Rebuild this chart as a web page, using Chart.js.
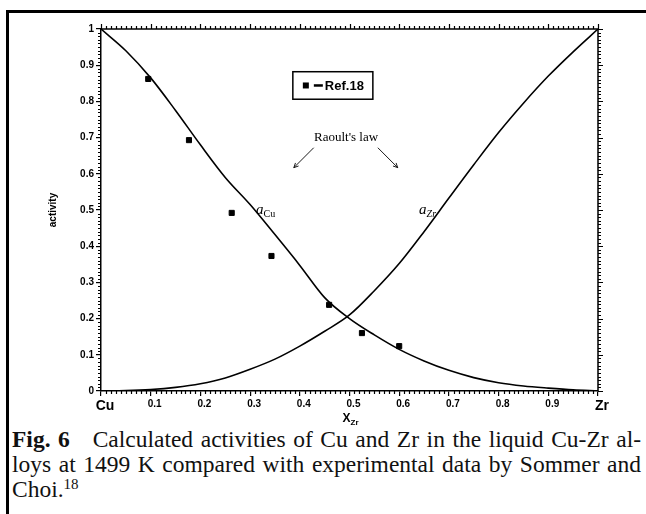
<!DOCTYPE html>
<html>
<head>
<meta charset="utf-8">
<script src="https://cdn.jsdelivr.net/npm/chart.js@4/dist/chart.umd.min.js"></script>
<style>
    body { margin: 0; background: #fff; }
    #page { position: relative; width: 646px; height: 514px; overflow: hidden; }
    #frame { position: absolute; left: 6px; top: 10px; right: 0; bottom: 0;
             border-top: 3px solid #000; border-left: 3px solid #000; }
    #chartBox { position: absolute; left: 0; top: 0; width: 646px; height: 425px; }
    #caption { position: absolute; left: 12px; top: 427px; width: 629px;
               font-family: "Liberation Serif", "Times New Roman", serif; font-size: 23.5px;
               line-height: 25px; color: #111; }
    #caption .j { text-align: justify; text-align-last: justify; white-space: nowrap; }
    #caption sup { font-size: 15px; vertical-align: 8px; line-height: 0; }
</style>
</head>
<body>
<div id="page">
    <div id="frame"></div>
    <div id="chartBox"><canvas id="chart"></canvas></div>
    <div id="caption">
        <div class="j"><b>Fig. 6</b>&nbsp;&nbsp; Calculated activities of Cu and Zr in the liquid Cu-Zr al-</div>
        <div class="j">loys at 1499 K compared with experimental data by Sommer and</div>
        <div>Choi.<sup>18</sup></div>
    </div>
</div>
<script>
// composition x_Zr
const xCalc = [0, 0.05, 0.1, 0.15, 0.2, 0.25, 0.3, 0.35, 0.4, 0.45, 0.5,
    0.55, 0.6, 0.65, 0.7, 0.75, 0.8, 0.85, 0.9, 0.95, 1];
const aCu = [1, 0.94, 0.865, 0.775, 0.68, 0.59, 0.515, 0.432, 0.347, 0.258, 0.2,
    0.155, 0.115, 0.083, 0.057, 0.037, 0.023, 0.014, 0.008, 0.003, 0];
const aZr = [0, 0.001, 0.004, 0.01, 0.02, 0.036, 0.06, 0.088, 0.124, 0.165, 0.21,
    0.277, 0.352, 0.44, 0.533, 0.625, 0.714, 0.795, 0.87, 0.937, 1];

// Sommer and Choi (Ref.18)
const xRef = [0.095, 0.177, 0.263, 0.343, 0.459, 0.525, 0.600];
const aCuRef = [0.862, 0.693, 0.492, 0.373, 0.238, 0.160, 0.124];

const xTickLabels = ['Cu', '0.1', '0.2', '0.3', '0.4', '0.5', '0.6', '0.7', '0.8', '0.9', 'Zr'];
const yTickLabels = ['0', '0.1', '0.2', '0.3', '0.4', '0.5', '0.6', '0.7', '0.8', '0.9', '1'];

const pts = (xs, ys) => xs.map((x, i) => ({x: x, y: ys[i]}));

const sans = '"Liberation Sans", Arial, sans-serif';
const serif = '"Liberation Serif", "Times New Roman", serif';

function arrow(ctx, x1, y1, x2, y2) {
    const a = Math.atan2(y2 - y1, x2 - x1);
    ctx.beginPath();
    ctx.moveTo(x1, y1);
    ctx.lineTo(x2, y2);
    ctx.moveTo(x2 - 5 * Math.cos(a - 0.45), y2 - 5 * Math.sin(a - 0.45));
    ctx.lineTo(x2, y2);
    ctx.lineTo(x2 - 5 * Math.cos(a + 0.45), y2 - 5 * Math.sin(a + 0.45));
    ctx.stroke();
}

function subLabel(ctx, x, y, main, sub, mainFont, subFont) {
    ctx.font = mainFont;
    ctx.fillText(main, x, y);
    const w = ctx.measureText(main).width;
    ctx.font = subFont;
    ctx.fillText(sub, x + w, y + 3);
}

const extras = {
    id: 'extras',
    afterDraw(chart) {
        const ctx = chart.ctx;
        const xs = chart.scales.x, ys = chart.scales.y;
        const area = chart.chartArea;
        ctx.save();
        ctx.strokeStyle = '#000';
        ctx.fillStyle = '#000';

        // top and right frame lines
        ctx.lineWidth = 1.5;
        ctx.beginPath();
        ctx.moveTo(area.left, area.top);
        ctx.lineTo(area.right, area.top);
        ctx.lineTo(area.right, area.bottom);
        ctx.stroke();

        // ticks on all sides, outward
        ctx.lineWidth = 1.2;
        for (let i = 0; i <= 100; i++) {
            const v = i / 100;
            const major = i % 10 === 0;
            const len = major ? 5 : 3;
            const px = Math.round(xs.getPixelForValue(v)) + 0.5;
            const py = Math.round(ys.getPixelForValue(v)) + 0.5;
            ctx.beginPath();
            ctx.moveTo(px, area.top); ctx.lineTo(px, area.top - len);
            ctx.moveTo(area.right, py); ctx.lineTo(area.right + len, py);
            if (!major) {
                ctx.moveTo(px, area.bottom); ctx.lineTo(px, area.bottom + len);
                ctx.moveTo(area.left, py); ctx.lineTo(area.left - len, py);
            }
            ctx.stroke();
        }

        // axis titles
        ctx.textBaseline = 'alphabetic';
        ctx.textAlign = 'left';
        subLabel(ctx, xs.getPixelForValue(0.5) - 7, 422, 'X', 'Zr',
            'bold 12px ' + sans, 'bold 8px ' + sans);
        ctx.save();
        ctx.translate(56, (area.top + area.bottom) / 2);
        ctx.rotate(-Math.PI / 2);
        ctx.textAlign = 'center';
        ctx.font = 'bold 10px ' + sans;
        ctx.fillText('activity', 0, 0);
        ctx.restore();

        // curve labels
        ctx.textAlign = 'left';
        subLabel(ctx, xs.getPixelForValue(0.312), ys.getPixelForValue(0.49), 'a', 'Cu',
            'italic 15px ' + serif, '10px ' + serif);
        subLabel(ctx, xs.getPixelForValue(0.64), ys.getPixelForValue(0.49), 'a', 'Zr',
            'italic 15px ' + serif, 'italic 10px ' + serif);

        // Raoult's law with arrows
        ctx.textAlign = 'center';
        ctx.font = '13px ' + serif;
        ctx.fillText("Raoult's law", xs.getPixelForValue(0.493), ys.getPixelForValue(0.69));
        ctx.lineWidth = 0.9;
        arrow(ctx, xs.getPixelForValue(0.428), ys.getPixelForValue(0.672),
            xs.getPixelForValue(0.388), ys.getPixelForValue(0.617));
        arrow(ctx, xs.getPixelForValue(0.557), ys.getPixelForValue(0.672),
            xs.getPixelForValue(0.597), ys.getPixelForValue(0.617));

        // legend box
        const bx = xs.getPixelForValue(0.386), by = ys.getPixelForValue(0.882);
        const bw = xs.getPixelForValue(0.547) - bx, bh = ys.getPixelForValue(0.806) - by;
        ctx.lineWidth = 1.5;
        ctx.strokeRect(bx, by, bw, bh);
        const cy = by + bh / 2;
        ctx.fillRect(bx + 10, cy - 3, 6, 6);
        ctx.lineWidth = 2.5;
        ctx.beginPath();
        ctx.moveTo(bx + 21, cy); ctx.lineTo(bx + 30, cy);
        ctx.stroke();
        ctx.textAlign = 'left';
        ctx.textBaseline = 'middle';
        ctx.font = 'bold 13px ' + sans;
        ctx.fillText('Ref.18', bx + 32, cy + 0.5);
        ctx.restore();
    }
};

new Chart(document.getElementById('chart'), {
    type: 'line',
    data: {
        datasets: [
            {
                label: 'a Cu',
                data: pts(xCalc, aCu),
                borderColor: '#000',
                borderWidth: 1.6,
                pointRadius: 0,
                cubicInterpolationMode: 'monotone'
            },
            {
                label: 'a Zr',
                data: pts(xCalc, aZr),
                borderColor: '#000',
                borderWidth: 1.6,
                pointRadius: 0,
                cubicInterpolationMode: 'monotone'
            },
            {
                label: 'Ref.18',
                type: 'scatter',
                data: pts(xRef, aCuRef),
                backgroundColor: '#000',
                borderColor: '#000',
                pointStyle: 'rect',
                pointRadius: 3.6,
                showLine: false
            }
        ]
    },
    options: {
        responsive: true,
        maintainAspectRatio: false,
        animation: false,
        layout: { padding: { top: 29, right: 48, left: 0, bottom: 0 } },
        plugins: { legend: { display: false }, tooltip: { enabled: false } },
        scales: {
            x: {
                type: 'linear', min: 0, max: 1,
                afterFit: s => { s.height = 34; },
                grid: { drawOnChartArea: false, tickLength: 5, color: '#000', lineWidth: 1.2 },
                border: { color: '#000', width: 1.5 },
                ticks: {
                    stepSize: 0.1, padding: 2, color: '#000', autoSkip: false, maxRotation: 0,
                    labelOffset: 4,
                    callback: (v, i) => xTickLabels[i],
                    font: c => (c.index === 0 || c.index === 10)
                        ? { family: sans, size: 14, weight: 'bold' }
                        : { family: sans, size: 10, weight: 'bold' }
                }
            },
            y: {
                min: 0, max: 1,
                afterFit: s => { s.width = 101; },
                grid: { drawOnChartArea: false, tickLength: 5, color: '#000', lineWidth: 1.2 },
                border: { color: '#000', width: 1.5 },
                ticks: {
                    stepSize: 0.1, padding: 2, color: '#000', autoSkip: false,
                    callback: (v, i) => yTickLabels[i],
                    font: { family: sans, size: 10, weight: 'bold' }
                }
            }
        }
    },
    plugins: [extras]
});
</script>
</body>
</html>
